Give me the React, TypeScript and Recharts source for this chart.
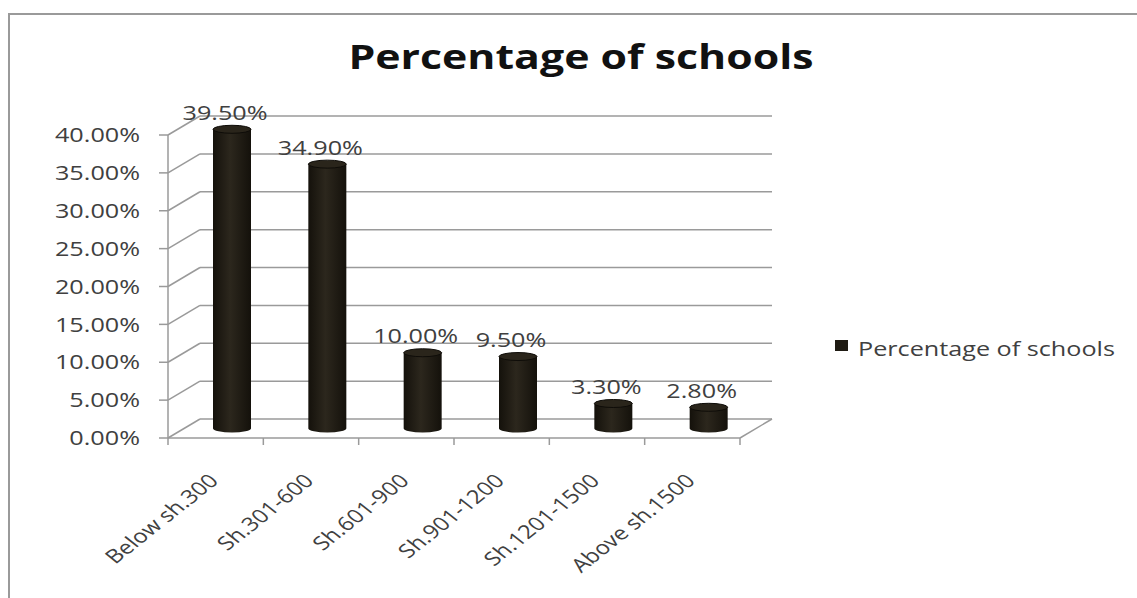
import { BarChart, Bar, XAxis, YAxis, CartesianGrid, LabelList, Legend } from 'recharts';

const categories = ['Below sh.300', 'Sh.301-600', 'Sh.601-900', 'Sh.901-1200', 'Sh.1201-1500', 'Above sh.1500'];
const percentages = [39.5, 34.9, 10.0, 9.5, 3.3, 2.8];
const yTicks = [0, 5, 10, 15, 20, 25, 30, 35, 40];
const seriesName = 'Percentage of schools';

const data = categories.map((category, i) => ({ category, value: percentages[i] }));

// depth offset of the fake 3D box and the horizontal stretch of the old picture
const DX = 32;
const DY = -19;
const SX = 1.26;
const FONT = '"Open Sans", sans-serif';
const GRID = '#9a9a9a';
const BAR = '#1f1b13';
const LEGEND_W = 300;

const renderGridLine = (props: any) => {
  const { x1, y1, x2, y2, index, y, height } = props;
  const isFloor = Math.abs(y1 - (y + height)) < 1;
  return (
    <g key={`grid-${index}`}>
      <line x1={x1} y1={y1} x2={x1 + DX} y2={y1 + DY} stroke={GRID} strokeWidth={1.5} />
      <line x1={x1 + DX} y1={y1 + DY} x2={x2 + DX} y2={y2 + DY} stroke={GRID} strokeWidth={1.5} />
      {isFloor && <line x1={x2} y1={y2} x2={x2 + DX} y2={y2 + DY} stroke={GRID} strokeWidth={1.5} />}
    </g>
  );
};

const YTick = ({ x, y, payload }: any) => (
  <text
    transform={`translate(${x},${y}) scale(${SX},1)`}
    textAnchor="end"
    dy="0.36em"
    fontSize={20}
    fontFamily={FONT}
    fill="#404040"
  >
    {payload.value.toFixed(2)}%
  </text>
);

const XTick = ({ x, y, width, payload, index }: any) => {
  const half = width / categories.length / 2;
  return (
    <g>
      <line x1={x - half} y1={y} x2={x - half} y2={y + 7} stroke={GRID} strokeWidth={1.5} />
      {index === categories.length - 1 && (
        <line x1={x + half} y1={y} x2={x + half} y2={y + 7} stroke={GRID} strokeWidth={1.5} />
      )}
      <text
        transform={`translate(${x + 4},${y + 44}) scale(${SX},1) rotate(-45)`}
        textAnchor="end"
        fontSize={19}
        fontFamily={FONT}
        fill="#404040"
      >
        {payload.value}
      </text>
    </g>
  );
};

const Cylinder = (props: any) => {
  const { x, y, width, height } = props;
  const left = x + DX / 2;
  const right = left + width;
  const top = y + DY / 2;
  const bottom = y + height + DY / 2;
  const rx = width / 2;
  const ry = 4;
  return (
    <g>
      <path
        d={`M${left},${top} L${left},${bottom} A${rx},${ry} 0 0 0 ${right},${bottom} L${right},${top} Z`}
        fill="url(#cylGrad)"
      />
      <ellipse cx={left + rx} cy={top} rx={rx} ry={ry} fill="#2a251b" stroke="#0e0c08" strokeWidth={1} />
    </g>
  );
};

const renderValueLabel = (props: any) => {
  const { x, y, width, value } = props;
  return (
    <text
      transform={`translate(${x + width / 2 + 9},${y - 26}) scale(${SX},1)`}
      textAnchor="middle"
      dy="0.36em"
      fontSize={20}
      fontFamily={FONT}
      fill="#404040"
    >
      {Number(value).toFixed(2)}%
    </text>
  );
};

const renderLegend = () => (
  <svg width={LEGEND_W} height={30}>
    <rect x={2} y={8} width={13} height={11} fill={BAR} />
    <text transform={`translate(25,24) scale(${SX},1)`} fontSize={20} fontFamily={FONT} fill="#404040">
      {seriesName}
    </text>
  </svg>
);

export default function App() {
  return (
    <div style={{ position: 'absolute', left: 0, top: 0, width: 1137, height: 598, background: '#fff', overflow: 'hidden' }}>
      <div
        style={{
          position: 'absolute',
          left: 8,
          top: 13,
          width: 1200,
          height: 700,
          borderTop: '2px solid #9a9a9a',
          borderLeft: '2px solid #9a9a9a',
        }}
      />
      <svg width={1137} height={100} style={{ position: 'absolute', left: 0, top: 0 }}>
        <text
          transform={`translate(581,69) scale(${SX},1)`}
          textAnchor="middle"
          fontSize={34}
          fontWeight="bold"
          fontFamily={FONT}
          fill="#111"
        >
          {seriesName}
        </text>
      </svg>
      <div style={{ position: 'absolute', left: 0, top: 0 }}>
        <BarChart width={1137} height={598} data={data} margin={{ top: 135, right: 397 - LEGEND_W, bottom: 0, left: 0 }}>
          <defs>
            <linearGradient id="cylGrad" x1="0" y1="0" x2="1" y2="0">
              <stop offset="0%" stopColor="#14110b" />
              <stop offset="45%" stopColor="#2c271d" />
              <stop offset="100%" stopColor="#14110b" />
            </linearGradient>
          </defs>
          <CartesianGrid horizontal={renderGridLine} vertical={false} />
          <XAxis
            dataKey="category"
            height={160}
            tickSize={0}
            tickMargin={0}
            interval={0}
            tick={<XTick />}
            axisLine={{ stroke: GRID, strokeWidth: 1.5 }}
          />
          <YAxis
            width={168}
            domain={[0, 40]}
            ticks={yTicks}
            tickSize={9}
            tickMargin={19}
            tick={<YTick />}
            axisLine={{ stroke: GRID, strokeWidth: 1.5 }}
            tickLine={{ stroke: GRID, strokeWidth: 1.5 }}
          />
          <Legend
            layout="vertical"
            verticalAlign="middle"
            align="right"
            wrapperStyle={{ left: 833, top: 332, width: LEGEND_W }}
            content={renderLegend}
          />
          <Bar dataKey="value" name={seriesName} barSize={38} shape={<Cylinder />} isAnimationActive={false}>
            <LabelList dataKey="value" content={renderValueLabel} />
          </Bar>
        </BarChart>
      </div>
    </div>
  );
}
